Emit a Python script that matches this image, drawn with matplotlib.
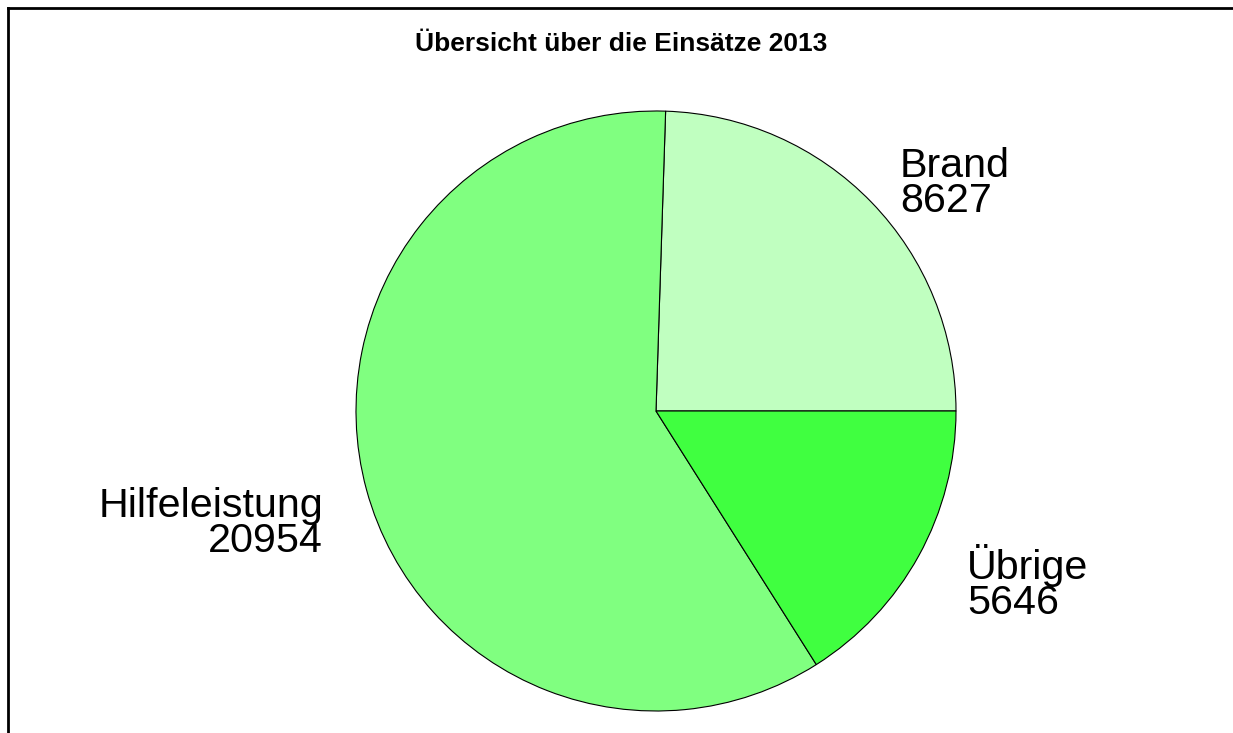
import matplotlib
matplotlib.use("Agg")
import matplotlib.pyplot as plt
from matplotlib.lines import Line2D

plt.rcParams['font.family'] = ['Liberation Sans', 'DejaVu Sans']

title = "Übersicht über die Einsätze 2013"
categories = ["Brand", "Hilfeleistung", "Übrige"]
values = [8627, 20954, 5646]
colors = ["#C0FFC0", "#80FF80", "#40FF40"]

W, H = 1233, 733
fig = plt.figure(figsize=(W / 100, H / 100), dpi=100)
# axes in pixel units, y measured from the bottom
ax = fig.add_axes([0, 0, 1, 1])

cx, cy, r = 656, H - 411, 300
ax.pie(values, colors=colors, startangle=0, counterclock=True,
       center=(cx, cy), radius=r,
       wedgeprops=dict(edgecolor="black", linewidth=0.8))
ax.set_xlim(0, W)
ax.set_ylim(0, H)
ax.set_aspect("auto")
ax.axis("off")

# label positions (pixels: x, baseline of the number line, alignment)
label_pos = [(900, 212, "left"), (323, 552, "right"), (967, 614, "left")]
for name, val, (x, y, ha) in zip(categories, values, label_pos):
    ax.text(x, H - y, f"{name}\n{val}", ha=ha, va="baseline",
            multialignment=ha, fontsize=29.7, linespacing=0.9)

ax.text(621, H - 51, title, ha="center", va="baseline",
        fontsize=19, fontweight="bold")

# frame only on the left and top, like the original device output
fig.add_artist(Line2D([8, 8], [0, H - 8], transform=None, color="black", linewidth=2))
fig.add_artist(Line2D([8, W], [H - 8, H - 8], transform=None, color="black", linewidth=2))

fig.savefig("out.png", dpi=100)
